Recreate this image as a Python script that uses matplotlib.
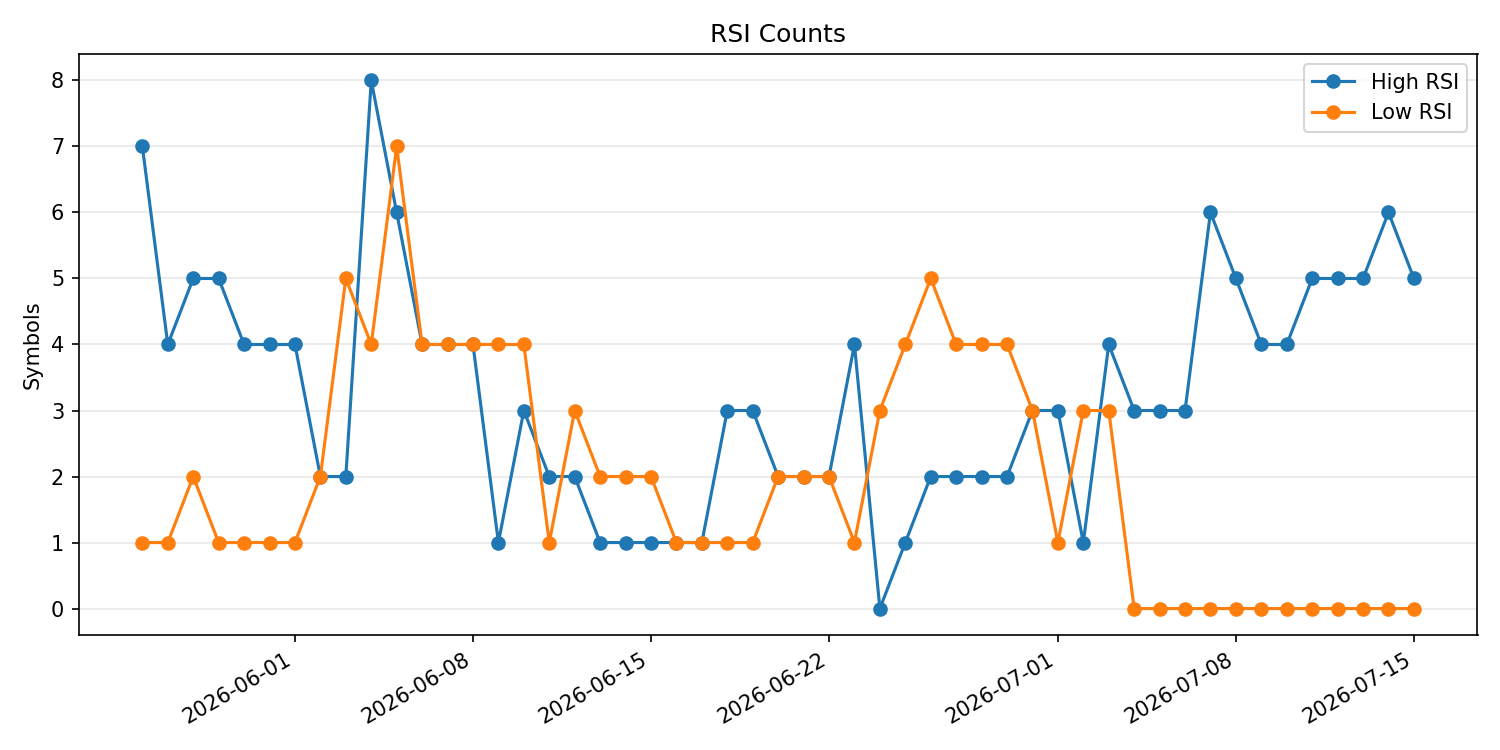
import numpy as np
import pandas as pd
import matplotlib
matplotlib.use("Agg")
import matplotlib.pyplot as plt

dates = pd.date_range("2026-05-26", "2026-07-15", freq="D")

high_rsi = [7, 4, 5, 5, 4, 4, 4, 2, 2, 8, 6, 4, 4, 4, 1, 3, 2, 2, 1, 1,
            1, 1, 1, 3, 3, 2, 2, 2, 4, 0, 1, 2, 2, 2, 2, 3, 3, 1, 4, 3,
            3, 3, 6, 5, 4, 4, 5, 5, 5, 6, 5]
low_rsi = [1, 1, 2, 1, 1, 1, 1, 2, 5, 4, 7, 4, 4, 4, 4, 4, 1, 3, 2, 2,
           2, 1, 1, 1, 1, 2, 2, 2, 1, 3, 4, 5, 4, 4, 4, 3, 1, 3, 3, 0,
           0, 0, 0, 0, 0, 0, 0, 0, 0, 0, 0]

fig, ax = plt.subplots(figsize=(10, 5), dpi=150)
ax.plot(dates, high_rsi, marker="o", label="High RSI")
ax.plot(dates, low_rsi, marker="o", label="Low RSI")
ax.set_title("RSI Counts")
ax.set_ylabel("Symbols")
ax.grid(axis="y", alpha=0.3)
ax.legend()
fig.autofmt_xdate()
fig.tight_layout()
fig.savefig("out.png")
